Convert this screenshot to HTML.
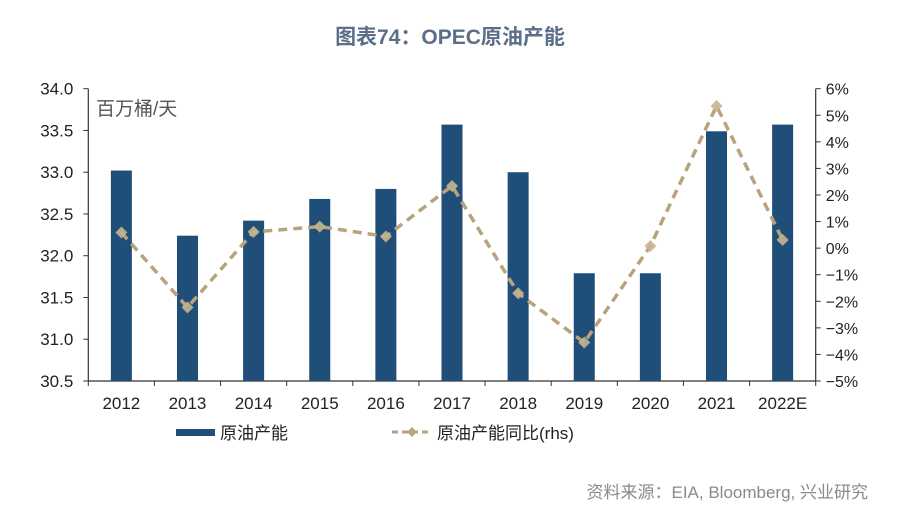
<!DOCTYPE html>
<html><head><meta charset="utf-8"><style>
body{margin:0;background:#fff;}
svg{display:block;font-family:"Liberation Sans","Noto Sans CJK SC",sans-serif;}
</style></head><body>
<svg id="chart" width="900" height="516" viewBox="0 0 900 516">
<text x="450" y="44" text-anchor="middle" font-size="21" font-weight="bold" fill="#5b6f88">图表74：OPEC原油产能</text>
<text x="96" y="115" font-size="19" fill="#555">百万桶/天</text>
<g id="axes"></g><g id="bars"></g><g id="line"></g>
<g>
<rect x="176" y="429" width="39" height="7" fill="#1f4e79"/>
<text x="220" y="439" font-size="17" fill="#222">原油产能</text>
<line x1="392" y1="432" x2="432" y2="432" stroke="#b8a37c" stroke-width="3" stroke-dasharray="6,4"/>
<path d="M412,427 L417,432 L412,437 L407,432Z" fill="#b8a37c"/>
<text x="437" y="439" font-size="17" fill="#222">原油产能同比(rhs)</text>
</g>
<text x="868" y="498" text-anchor="end" font-size="17" fill="#8a8a8a">资料来源：EIA, Bloomberg, 兴业研究</text>
</svg>
<script>
const categories=["2012","2013","2014","2015","2016","2017","2018","2019","2020","2021","2022E"];
const capacity=[33.02,32.24,32.42,32.68,32.80,33.57,33.00,31.79,31.79,33.49,33.57];
const yoy=[0.59,-2.23,0.61,0.81,0.44,2.34,-1.70,-3.55,0.08,5.35,0.31];
const leftTicks=["30.5","31.0","31.5","32.0","32.5","33.0","33.5","34.0"];
const rightTicks=["-5%","-4%","-3%","-2%","-1%","0%","1%","2%","3%","4%","5%","6%"];
const NS="http://www.w3.org/2000/svg";
const X0=88.3,X1=815.7,YT=88.7,YB=381;
const band=(X1-X0)/categories.length;
const xc=i=>X0+band*(i+0.5);
const yL=v=>YB-(v-30.5)/(34-30.5)*(YB-YT);
const yR=v=>YB-(v+5)/11*(YB-YT);
function mk(tag,attrs,parent,txt){const e=document.createElementNS(NS,tag);for(const k in attrs)e.setAttribute(k,attrs[k]);if(txt!==undefined)e.textContent=txt;parent.appendChild(e);return e;}
const ax=document.getElementById('axes');
let e=mk('line',{x1:X0,y1:YT,x2:X0,y2:YB,stroke:'#333','stroke-width':1.2},ax);


e=mk('line',{x1:X1,y1:YT,x2:X1,y2:YB,stroke:'#333','stroke-width':1.2},ax);


e=mk('line',{x1:X0,y1:YB,x2:X1,y2:YB,stroke:'#333','stroke-width':1.2},ax);


leftTicks.forEach(t=>{const y=yL(parseFloat(t));
 mk('line',{x1:X0-5,y1:y,x2:X0,y2:y,stroke:'#333'},ax);
 e=mk('text',{x:X0-15,y:y+6,'text-anchor':'end','font-size':17,fill:'#222'},ax,t);
 
 });
rightTicks.forEach(t=>{const y=yR(parseFloat(t));
 mk('line',{x1:X1,y1:y,x2:X1+5,y2:y,stroke:'#333'},ax);
 e=mk('text',{x:X1+10,y:y+6,'font-size':16,fill:'#222'},ax,t.replace('-','−'));
 
 });
for(let i=0;i<=categories.length;i++){const x=X0+band*i;mk('line',{x1:x,y1:YB,x2:x,y2:YB+5,stroke:'#333'},ax);}
categories.forEach((c,i)=>{e=mk('text',{x:xc(i),y:YB+28,'text-anchor':'middle','font-size':17,fill:'#222'},ax,c);
 
 });
const bg=document.getElementById('bars');
capacity.forEach((v,i)=>{const y=yL(v);
 e=mk('rect',{x:xc(i)-10.5,y:y,width:21,height:YB-y,fill:'#1f4e79'},bg);
 
 });
const lg=document.getElementById('line');
const pts=yoy.map((v,i)=>xc(i)+','+yR(v)).join(' ');
e=mk('polyline',{points:pts,fill:'none',stroke:'#b8a37c','stroke-width':3.5,'stroke-dasharray':'9,6'},lg);


yoy.forEach((v,i)=>{const x=xc(i),y=yR(v);
 e=mk('path',{d:`M${x},${y-6} L${x+6},${y} L${x},${y+6} L${x-6},${y}Z`,fill:'#c8b58f',opacity:0.9},lg);
 
 });
</script>
</body></html>
